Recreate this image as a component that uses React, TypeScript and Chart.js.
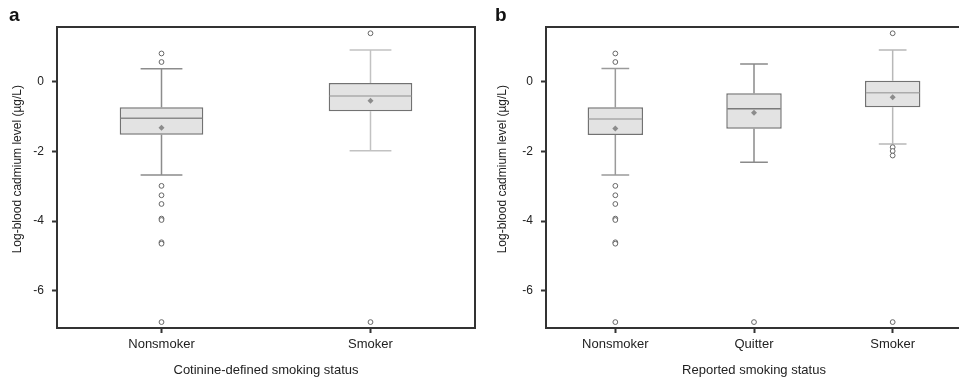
import React, { useEffect, useRef } from "react";
import { Chart, registerables } from "chart.js";

Chart.register(...registerables);

// ---------- data ----------
const categoriesA = ["Nonsmoker", "Smoker"];
const whiskerLowA = [-2.68, -1.98];
const q1A = [-1.52, -0.85];
const medianA = [-1.05, -0.41];
const q3A = [-0.735, -0.04];
const whiskerHighA = [0.37, 0.91];
const meanA = [-1.32, -0.545];
const outliersA = [
  [0.81, 0.565, -2.99, -3.26, -3.51, -3.93, -3.97, -4.61, -4.65, -6.9],
  [1.39, -6.9],
];

const categoriesB = ["Nonsmoker", "Quitter", "Smoker"];
const whiskerLowB = [-2.68, -2.31, -1.79];
const q1B = [-1.53, -1.35, -0.73];
const medianB = [-1.07, -0.775, -0.32];
const q3B = [-0.735, -0.33, 0.03];
const whiskerHighB = [0.38, 0.51, 0.91];
const meanB = [-1.34, -0.89, -0.45];
const outliersB = [
  [0.81, 0.565, -2.99, -3.26, -3.51, -3.93, -3.97, -4.61, -4.65, -6.9],
  [-6.9],
  [1.39, -1.88, -1.99, -2.12, -6.9],
];

const yMin = -7.07;
const yMax = 1.57;
const yStep = 2;

const yTitle = "Log-blood cadmium level (\u00b5g/L)";
const xTitleA = "Cotinine-defined smoking status";
const xTitleB = "Reported smoking status";

// ---------- styles ----------
const FONT = "'Liberation Sans', Arial, Helvetica, sans-serif";
const whiskerColorsA = ["#8c8c8c", "#c2c2c2"];
const medianColorsA = ["#8a8a8a", "#ababab"];
const whiskerColorsB = ["#9a9a9a", "#8a8a8a", "#b8b8b8"];
const medianColorsB = ["#aaaaaa", "#7a7a7a", "#ababab"];

type PanelProps = {
  categories: string[];
  low: number[];
  q1: number[];
  med: number[];
  q3: number[];
  high: number[];
  mean: number[];
  outliers: number[][];
  xTitle: string;
  whiskerColors: string[];
  medianColors: string[];
  width: number;
  yAxisWidth: number;
  padRight: number;
  yTitlePad: number;
  yTickPad: number;
};

function Panel(p: PanelProps) {
  const ref = useRef<HTMLCanvasElement | null>(null);
  useEffect(() => {
    if (!ref.current) return;
    const outlierPts: { x: string; y: number }[] = [];
    p.outliers.forEach((arr, i) =>
      arr.forEach((v) => outlierPts.push({ x: p.categories[i], y: v }))
    );
    const meanPts = p.mean.map((v, i) => ({ x: p.categories[i], y: v }));

    const boxParts = {
      id: "boxParts",
      beforeDatasetsDraw(chart: any) {
        const ctx = chart.ctx;
        const xs = chart.scales.x;
        const ys = chart.scales.y;
        const meta = chart.getDatasetMeta(0);
        ctx.save();
        ctx.lineWidth = 1.5;
        p.categories.forEach((_, i) => {
          const x = xs.getPixelForValue(i);
          const bw = meta.data[i] ? meta.data[i].width : 40;
          const cap = bw / 4;
          ctx.strokeStyle = p.whiskerColors[i];
          ctx.beginPath();
          ctx.moveTo(x, ys.getPixelForValue(p.high[i]));
          ctx.lineTo(x, ys.getPixelForValue(p.q3[i]));
          ctx.moveTo(x, ys.getPixelForValue(p.q1[i]));
          ctx.lineTo(x, ys.getPixelForValue(p.low[i]));
          ctx.moveTo(x - cap, ys.getPixelForValue(p.high[i]));
          ctx.lineTo(x + cap, ys.getPixelForValue(p.high[i]));
          ctx.moveTo(x - cap, ys.getPixelForValue(p.low[i]));
          ctx.lineTo(x + cap, ys.getPixelForValue(p.low[i]));
          ctx.stroke();
        });
        ctx.restore();
      },
      afterDatasetDraw(chart: any, args: any) {
        if (args.index !== 0) return;
        const ctx = chart.ctx;
        const xs = chart.scales.x;
        const ys = chart.scales.y;
        const meta = chart.getDatasetMeta(0);
        ctx.save();
        ctx.lineWidth = 1.5;
        p.categories.forEach((_, i) => {
          const x = xs.getPixelForValue(i);
          const bw = meta.data[i] ? meta.data[i].width : 40;
          const y = ys.getPixelForValue(p.med[i]);
          ctx.strokeStyle = p.medianColors[i];
          ctx.beginPath();
          ctx.moveTo(x - bw / 2 + 1, y);
          ctx.lineTo(x + bw / 2 - 1, y);
          ctx.stroke();
        });
        ctx.restore();
      },
      afterDraw(chart: any) {
        const ctx = chart.ctx;
        const a = chart.chartArea;
        ctx.save();
        ctx.strokeStyle = "#333333";
        ctx.lineWidth = 2;
        ctx.strokeRect(a.left, a.top, a.right - a.left, a.bottom - a.top);
        ctx.restore();
      },
    };

    const chart = new Chart(ref.current, {
      type: "bar",
      data: {
        labels: p.categories,
        datasets: [
          {
            type: "bar",
            data: p.q1.map((v, i) => [v, p.q3[i]]) as any,
            backgroundColor: "#e3e3e3",
            borderColor: "#727272",
            borderWidth: 1.5,
            borderSkipped: false,
            barPercentage: 0.4,
            categoryPercentage: 1,
            order: 3,
          } as any,
          {
            type: "line",
            data: meanPts as any,
            showLine: false,
            pointStyle: "rectRot",
            pointRadius: 3,
            pointBackgroundColor: "#8c8c8c",
            pointBorderColor: "#8c8c8c",
            pointBorderWidth: 0,
            order: 2,
          } as any,
          {
            type: "line",
            data: outlierPts as any,
            showLine: false,
            pointStyle: "circle",
            pointRadius: 2.4,
            pointBackgroundColor: "#ffffff",
            pointBorderColor: "#666666",
            pointBorderWidth: 1,
            order: 1,
          } as any,
        ],
      },
      options: {
        animation: false,
        responsive: false,
        devicePixelRatio: 1,
        events: [],
        layout: { padding: { top: 27, right: p.padRight, left: 0, bottom: 0 } },
        plugins: { legend: { display: false }, tooltip: { enabled: false } },
        scales: {
          x: {
            type: "category",
            offset: true,
            afterFit: (s: any) => {
              s.height = 58;
            },
            border: { display: false },
            grid: {
              display: true,
              drawOnChartArea: false,
              drawTicks: true,
              tickLength: 5,
              tickColor: "#333333",
              tickWidth: 2,
              offset: false,
            },
            ticks: {
              color: "#222222",
              font: { family: FONT, size: 13 },
              padding: 4,
              maxRotation: 0,
            },
            title: {
              display: true,
              text: p.xTitle,
              color: "#222222",
              font: { family: FONT, size: 13 },
              padding: { top: 0, bottom: 8 },
            },
          },
          y: {
            type: "linear",
            min: yMin,
            max: yMax,
            afterFit: (s: any) => {
              s.width = p.yAxisWidth;
            },
            border: { display: false },
            grid: {
              display: true,
              drawOnChartArea: false,
              drawTicks: true,
              tickLength: 5,
              tickColor: "#333333",
              tickWidth: 2,
            },
            ticks: {
              stepSize: yStep,
              includeBounds: false,
              color: "#222222",
              font: { family: FONT, size: 12 },
              padding: p.yTickPad,
            },
            title: {
              display: true,
              text: "     " + yTitle,
              color: "#222222",
              font: { family: FONT, size: 12 },
              padding: { top: p.yTitlePad, bottom: 0 },
            },
          },
        },
      } as any,
      plugins: [boxParts as any],
    });
    return () => chart.destroy();
  }, []);
  return (
    <canvas
      ref={ref}
      width={p.width}
      height={386}
      style={{ width: p.width, height: 386, display: "block" }}
    />
  );
}

const letterStyle: React.CSSProperties = {
  position: "absolute",
  fontFamily: FONT,
  fontWeight: "bold",
  fontSize: 19,
  lineHeight: "19px",
  color: "#111",
};

export default function App() {
  return (
    <div
      style={{
        position: "absolute",
        left: 0,
        top: 0,
        width: 959,
        height: 386,
        overflow: "hidden",
        background: "#ffffff",
      }}
    >
      <div style={{ position: "absolute", left: 0, top: 0 }}>
        <Panel
          categories={categoriesA}
          low={whiskerLowA}
          q1={q1A}
          med={medianA}
          q3={q3A}
          high={whiskerHighA}
          mean={meanA}
          outliers={outliersA}
          xTitle={xTitleA}
          whiskerColors={whiskerColorsA}
          medianColors={medianColorsA}
          width={480}
          yAxisWidth={57}
          padRight={5}
          yTitlePad={10.5}
          yTickPad={8}
        />
      </div>
      <div style={{ position: "absolute", left: 480, top: 0 }}>
        <Panel
          categories={categoriesB}
          low={whiskerLowB}
          q1={q1B}
          med={medianB}
          q3={q3B}
          high={whiskerHighB}
          mean={meanB}
          outliers={outliersB}
          xTitle={xTitleB}
          whiskerColors={whiskerColorsB}
          medianColors={medianColorsB}
          width={490}
          yAxisWidth={66}
          padRight={8}
          yTitlePad={15.8}
          yTickPad={8}
        />
      </div>
      <div style={{ ...letterStyle, left: 9, top: 5 }}>a</div>
      <div style={{ ...letterStyle, left: 495, top: 5 }}>b</div>
    </div>
  );
}
